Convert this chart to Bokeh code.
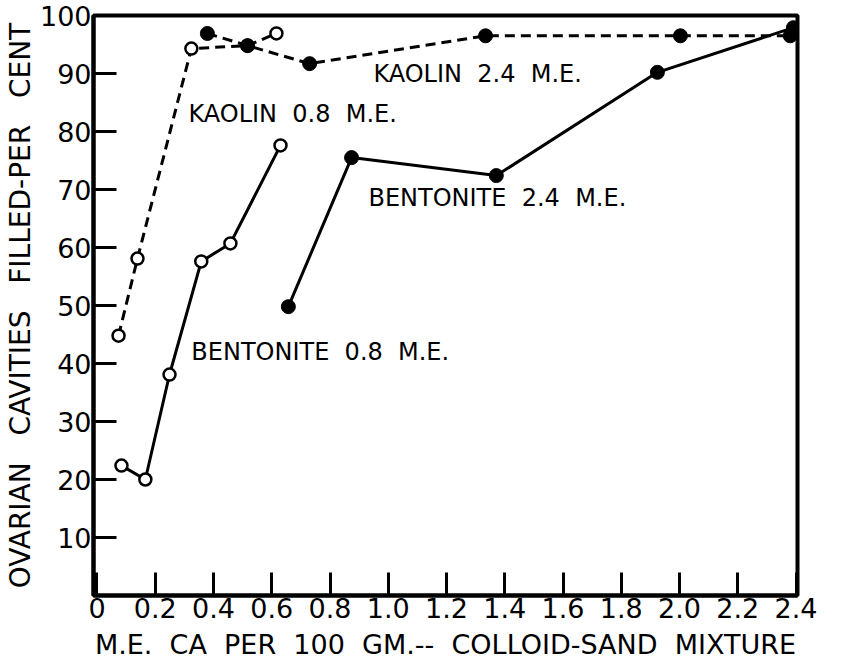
from bokeh.plotting import figure
from bokeh.models import FixedTicker, Range1d, ColumnDataSource
from bokeh.core.properties import value
from bokeh.embed import file_html
from bokeh.resources import INLINE

# ---- data ----
kaolin08_x = [0.074, 0.139, 0.324, 0.517, 0.616]
kaolin08_y = [44.8, 58.1, 94.3, 94.8, 96.9]

kaolin24_x = [0.379, 0.517, 0.730, 1.334, 2.003, 2.380]
kaolin24_y = [96.9, 94.8, 91.7, 96.5, 96.5, 96.5]

bent08_x = [0.084, 0.166, 0.249, 0.358, 0.458, 0.630]
bent08_y = [22.4, 20.0, 38.1, 57.6, 60.7, 77.6]

bent24_x = [0.657, 0.874, 1.371, 1.924, 2.391]
bent24_y = [49.8, 75.5, 72.4, 90.2, 97.9]

x_ticks = [0, 0.2, 0.4, 0.6, 0.8, 1.0, 1.2, 1.4, 1.6, 1.8, 2.0, 2.2, 2.4]
x_tick_labels = ["0", "0.2", "0.4", "0.6", "0.8", "1.0", "1.2", "1.4", "1.6",
                 "1.8", "2.0", "2.2", "2.4"]
y_ticks = [10, 20, 30, 40, 50, 60, 70, 80, 90, 100]
y_tick_labels = ["10", "20", "30", "40", "50", "60", "70", "80", "90", "100"]

series_labels = ["KAOLIN 2.4 M.E.", "KAOLIN 0.8 M.E.", "BENTONITE 2.4 M.E.", "BENTONITE 0.8 M.E."]
label_x = [0.949, 0.314, 0.932, 0.324]
label_y = [90.0, 83.1, 68.6, 41.9]

x_title = "M.E. CA PER 100 GM.-- COLLOID-SAND MIXTURE"
y_title = "OVARIAN CAVITIES FILLED-PER CENT"

FONT = "DejaVu Sans"


def wide(s, n=1):
    # widen the word gaps like the hand lettering of the original
    return s.replace(" ", " " + "\u00a0" * n)


p = figure(frame_width=704, frame_height=580,
           x_range=Range1d(-0.012, 2.405), y_range=Range1d(0, 100),
           output_backend="svg", toolbar_location=None,
           min_border_left=93, min_border_right=45, min_border_top=15, min_border_bottom=74)

p.background_fill_color = "white"
p.border_fill_color = "white"
p.outline_line_color = "black"
p.outline_line_width = 4
p.xgrid.visible = False
p.ygrid.visible = False

# axes
p.xaxis.ticker = FixedTicker(ticks=x_ticks)
p.xaxis.major_label_overrides = {t: l for t, l in zip(x_ticks, x_tick_labels)}
p.yaxis.ticker = FixedTicker(ticks=y_ticks)
p.yaxis.major_label_overrides = {t: l for t, l in zip(y_ticks, y_tick_labels)}
for ax in (p.xaxis, p.yaxis):
    ax.axis_line_color = "black"
    ax.axis_line_width = 4
    ax.major_tick_line_color = "black"
    ax.major_tick_line_width = 3
    ax.major_tick_in = 23
    ax.major_tick_out = 0
    ax.minor_tick_line_color = None
    ax.major_label_text_font = FONT
    ax.major_label_text_font_size = "27px"
    ax.major_label_text_color = "black"
    ax.major_label_standoff = 2
    ax.axis_label_text_font = FONT
    ax.axis_label_text_font_style = "normal"
    ax.axis_label_text_color = "black"

p.xaxis.axis_label = wide(x_title, 1)
p.xaxis.axis_label_text_font_size = "27px"
p.xaxis.axis_label_standoff = 8
p.yaxis.axis_label = wide(y_title, 2)
p.yaxis.axis_label_text_font_size = "28px"
p.yaxis.axis_label_standoff = 0

# lines
p.line(kaolin08_x, kaolin08_y, line_color="black", line_width=3, line_dash="10 6")
p.line(kaolin24_x, kaolin24_y, line_color="black", line_width=3, line_dash="10 6")
p.line(bent08_x, bent08_y, line_color="black", line_width=3)
p.line(bent24_x, bent24_y, line_color="black", line_width=3)

# markers
p.scatter(kaolin08_x, kaolin08_y, marker="circle", size=12, fill_color="white",
          line_color="black", line_width=2.5)
p.scatter(bent08_x, bent08_y, marker="circle", size=12, fill_color="white",
          line_color="black", line_width=2.5)
p.scatter(kaolin24_x, kaolin24_y, marker="circle", size=14, fill_color="black",
          line_color="black")
p.scatter(bent24_x, bent24_y, marker="circle", size=14, fill_color="black",
          line_color="black")

src = ColumnDataSource(dict(x=label_x, y=label_y, t=[wide(s, 1) for s in series_labels]))
p.text(x="x", y="y", text="t", source=src, text_font=value(FONT),
       text_font_size="24px", text_color="black",
       text_align="left", text_baseline="middle")

open("out.html", "w").write(file_html(p, INLINE))
